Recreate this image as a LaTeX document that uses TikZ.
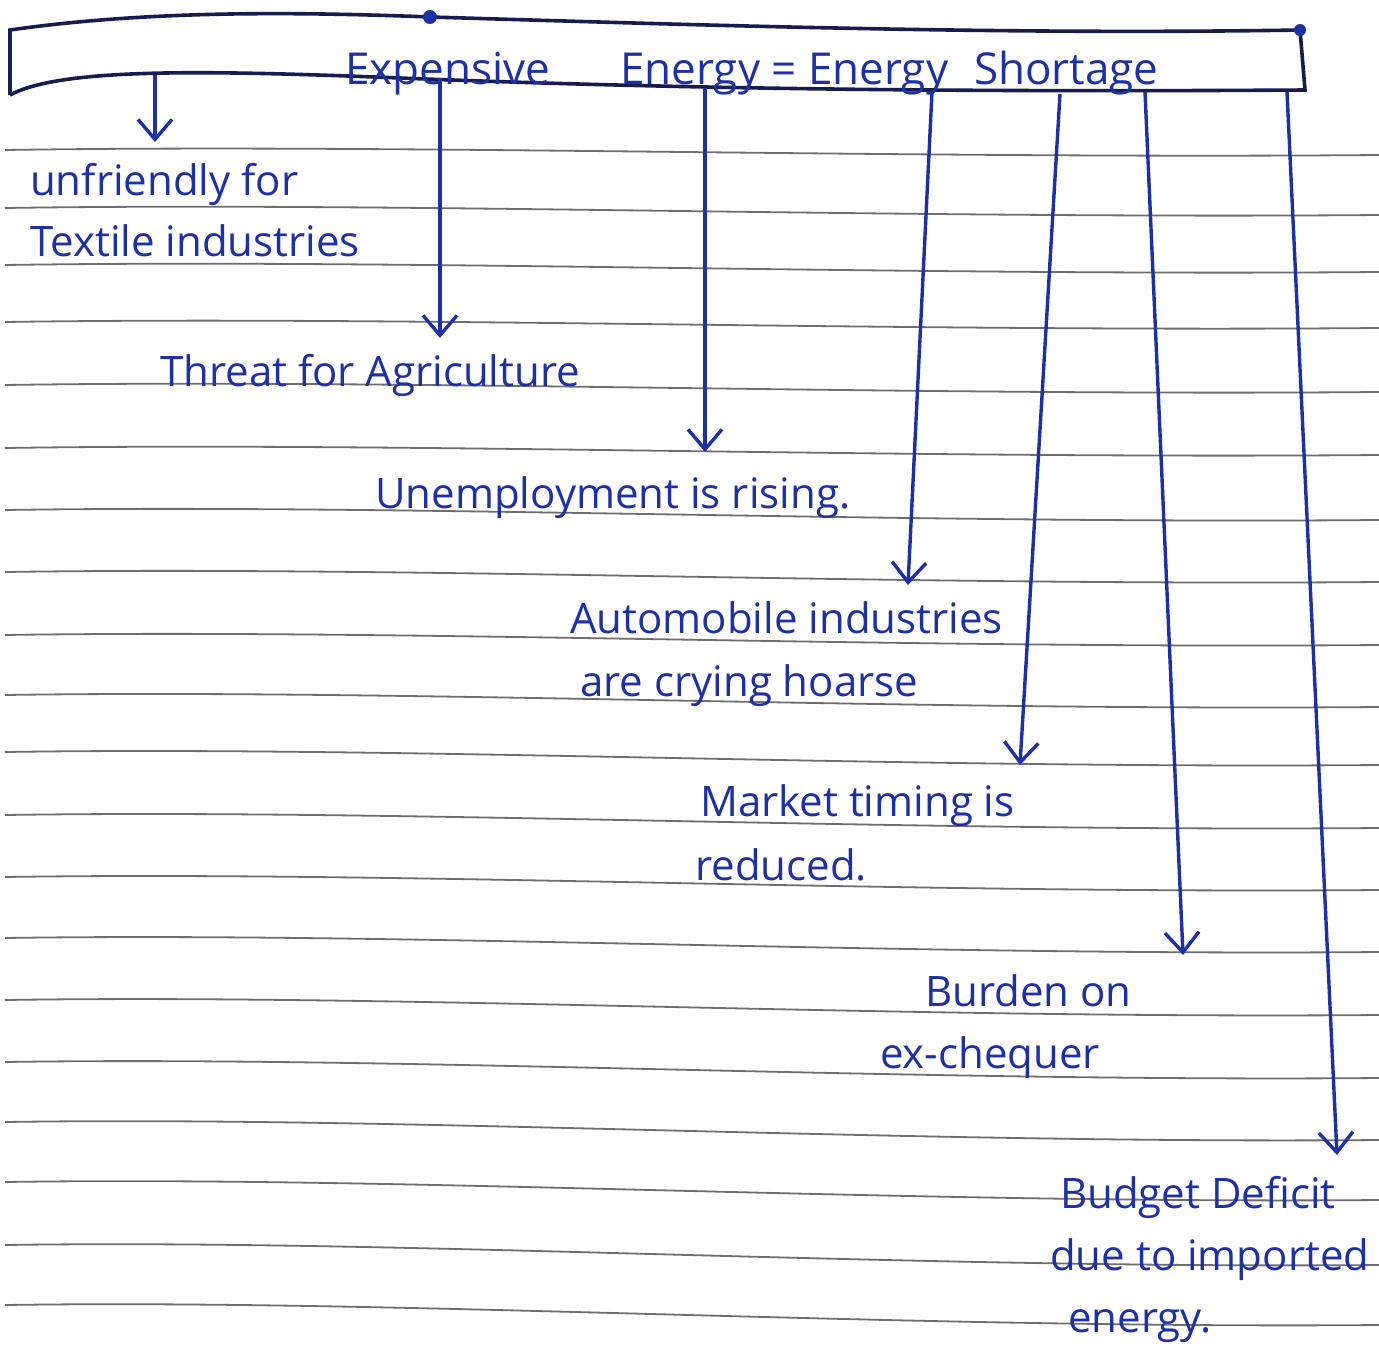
\documentclass[tikz,border=0pt]{standalone}
\usepackage{fontspec}
\setmainfont{Open Sans}
\usetikzlibrary{arrows.meta}
\definecolor{ink}{RGB}{28,48,170}
\definecolor{boxink}{RGB}{22,28,80}
\definecolor{rule}{RGB}{110,110,110}
\tikzset{
  lbl/.style={anchor=base west, inner sep=0pt, text=ink, font=\fontsize{42}{50}\selectfont},
  arr/.style={draw=ink, line width=3.4pt, -{Straight Barb[length=20pt,width=34pt,line width=3.4pt]}},
  ruled/.style={draw=rule, line width=1.8pt},
  boxline/.style={draw=boxink, line width=3.6pt}
}
\begin{document}
\begin{tikzpicture}[x=1pt,y=-1pt]
\useasboundingbox (0,0) rectangle (1379,1360);
\fill[white] (0,0) rectangle (1379,1360);
% ruled paper lines
\foreach \ly/\ry in {150/155,208/215,265/272,322/328,385/392,448/455,510/520,572/582,635/645,695/707,752/765,815/828,877/890,938/952,1000/1015,1062/1078,1122/1140,1182/1200,1245/1265,1305/1325}{
  \draw[ruled] (5,\ly) .. controls (400,\ly-6) and (900,\ry+4) .. (1379,\ry);
}
% top box
\draw[boxline] (10,95) -- (10,30) .. controls (150,10) and (300,12) .. (430,17)
  .. controls (700,25) and (1000,35) .. (1300,30) -- (1305,90)
  .. controls (1000,92) and (700,90) .. (400,78) .. controls (200,70) and (60,68) .. (10,95);
\fill[ink] (430,17) circle (7);
\fill[ink] (1300,30) circle (6);
% title
\node[lbl, font=\fontsize{44}{50}\selectfont] (title) at (345,84) {Expensive\hspace{70pt}Energy = Energy\hspace{26pt}Shortage};
% box anchor points
\coordinate (s1) at (155,75);
\coordinate (s2) at (440,78);
\coordinate (s3) at (705,88);
\coordinate (s4) at (932,92);
\coordinate (s5) at (1060,94);
\coordinate (s6) at (1145,92);
\coordinate (s7) at (1287,92);
% labels
\node[lbl] (t1) at (30,195) {unfriendly for};
\node[lbl] (t1b) at (30,256) {Textile industries};
\node[lbl] (t2) at (160,386) {Threat for Agriculture};
\node[lbl] (t3) at (375,508) {Unemployment is rising.};
\node[lbl] (t4) at (570,633) {Automobile industries};
\node[lbl] (t4b) at (580,696) {are crying hoarse};
\node[lbl] (t5) at (700,816) {Market timing is};
\node[lbl] (t5b) at (695,880) {reduced.};
\node[lbl] (t6) at (925,1006) {Burden on};
\node[lbl] (t6b) at (880,1068) {ex-chequer};
\node[lbl] (t7) at (1060,1208) {Budget Deficit};
\node[lbl] (t7b) at (1050,1270) {due to imported};
\node[lbl] (t7c) at (1068,1332) {energy.};
% arrow tips
\coordinate (e1) at (155,142);
\coordinate (e2) at (440,338);
\coordinate (e3) at (705,452);
\coordinate (e4) at (908,585);
\coordinate (e5) at (1020,765);
\coordinate (e6) at (1183,955);
\coordinate (e7) at (1337,1155);
\draw[arr] (s1) -- (e1);
\draw[arr] (s2) -- (e2);
\draw[arr] (s3) -- (e3);
\draw[arr] (s4) -- (e4);
\draw[arr] (s5) -- (e5);
\draw[arr] (s6) -- (e6);
\draw[arr] (s7) -- (e7);
\end{tikzpicture}
\end{document}
